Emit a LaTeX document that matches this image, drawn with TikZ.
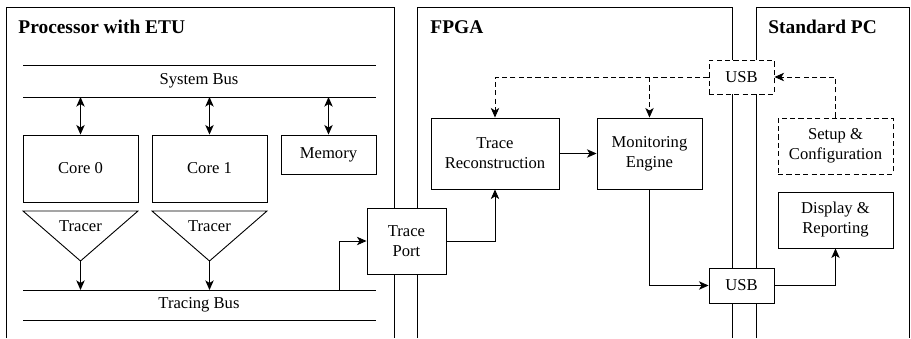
\documentclass[tikz,border=0pt]{standalone}
\usepackage{fontspec}
\setmainfont{Liberation Serif}
\usetikzlibrary{arrows.meta}
\begin{document}
\begin{tikzpicture}[x=0.5pt,y=-0.5pt,
  line width=0.45pt,
  txt/.style={font=\fontsize{8.3}{10}\selectfont},
  ttl/.style={font=\fontsize{9.7}{11}\selectfont\bfseries, anchor=base west, inner sep=0pt},
  box/.style={draw, fill=white, rectangle, inner sep=0pt, align=center, font=\fontsize{8.3}{10}\selectfont},
  dbox/.style={box, dash pattern=on 2.6pt off 1.6pt},
  arr/.style={-{Stealth[length=4.8pt,width=4.2pt,inset=1.3pt]}},
  darr/.style={arr, dash pattern=on 2.6pt off 1.6pt},
  barr/.style={{Stealth[length=4.8pt,width=4.2pt,inset=1.3pt]}-{Stealth[length=4.8pt,width=4.2pt,inset=1.3pt]}}
]
\useasboundingbox (0,0) rectangle (911,338);
% panels
\draw (6,338) -- (6,7) -- (394,7) -- (394,338);
\draw (417,338) -- (417,7) -- (732,7) -- (732,338);
\draw (756,338) -- (756,7) -- (909,7) -- (909,338);
\node[ttl] (t1) at (18,33) {Processor with ETU};
\node[ttl] (t2) at (430,33) {FPGA};
\node[ttl] (t3) at (768,33) {Standard PC};
% system bus
\coordinate (sbtop) at (23,65);
\coordinate (sbbot) at (23,97);
\draw (sbtop) -- (376,65);
\draw (sbbot) -- (376,97);
\node[txt] (sbt) at (199,81) {System Bus};
% cores and memory
\node[box, minimum width=57.5pt, minimum height=33.5pt] (core0) at (80.5,168.5) {Core 0};
\node[box, minimum width=57.5pt, minimum height=33.5pt] (core1) at (209.5,168.5) {Core 1};
\node[box, minimum width=47.5pt, minimum height=19.5pt] (mem) at (328.5,154.5) {Memory};
\draw[barr] (core0.north) -- (core0.north |- sbbot);
\draw[barr] (core1.north) -- (core1.north |- sbbot);
\draw[barr] (mem.north) -- (mem.north |- sbbot);
% tracers
\coordinate (ta0) at (80.5,261);
\coordinate (ta1) at (209.5,261);
\draw (23,211) -- (138,211) -- (ta0) -- cycle;
\draw (152,211) -- (267,211) -- (ta1) -- cycle;
\node[txt] (tr0) at (80.5,226) {Tracer};
\node[txt] (tr1) at (209.5,226) {Tracer};
% tracing bus
\coordinate (tbtop) at (23,290);
\draw (tbtop) -- (376,290);
\draw (23,320) -- (376,320);
\node[txt] (tbt) at (199,305) {Tracing Bus};
\draw[arr] (ta0) -- (ta0 |- tbtop);
\draw[arr] (ta1) -- (ta1 |- tbtop);
% trace port
\node[box, minimum width=39.5pt, minimum height=33pt] (tp) at (406.5,241) {Trace\\Port};
\coordinate (tbout) at (339,290);
\draw[arr] (tbout) |- (tp.west);
% FPGA
\node[box, minimum width=64pt, minimum height=35.5pt] (tr) at (495,153.5) {Trace\\Reconstruction};
\node[box, minimum width=52.5pt, minimum height=35.5pt] (me) at (649.5,153.5) {Monitoring\\Engine};
\draw[arr] (tp.east) -| (tr.south);
\draw[arr] (tr.east) -- (me.west);
% USB
\node[dbox, minimum width=32.5pt, minimum height=17pt] (usb1) at (741.5,77) {USB};
\node[box, minimum width=32.5pt, minimum height=17.5pt] (usb2) at (741.5,285.5) {USB};
\draw[arr] (me.south) |- (usb2.west);
\draw[darr] (usb1.west) -| (tr.north);
\draw[darr] (me.north |- usb1.west) -- (me.north);
% PC
\node[dbox, minimum width=57.5pt, minimum height=28pt] (setup) at (835.5,146) {Setup \&\\Configuration};
\node[box, minimum width=57.5pt, minimum height=28pt] (disp) at (835.5,220) {Display \&\\Reporting};
\draw[darr] (setup.north) |- (usb1.east);
\draw[arr] (usb2.east) -| (disp.south);
\end{tikzpicture}
\end{document}
